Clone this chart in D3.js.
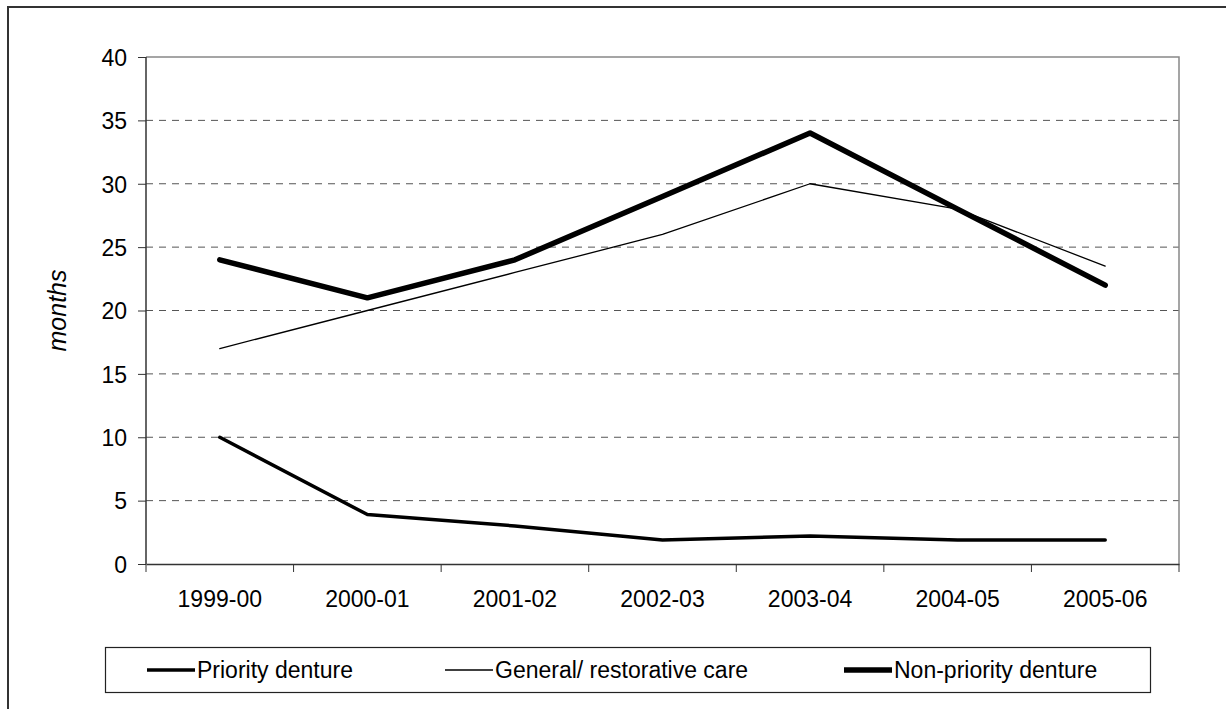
<!DOCTYPE html>
<html>
<head>
<meta charset="utf-8">
<script src="https://cdn.jsdelivr.net/npm/d3@7"></script>
<style>
  body { margin: 0; background: #fff; }
  svg { display: block; font-family: "Liberation Sans", Arial, sans-serif; }
</style>
</head>
<body>
<svg id="chart"></svg>
<script>
const years = ["1999-00", "2000-01", "2001-02", "2002-03", "2003-04", "2004-05", "2005-06"];
const priorityDenture = [10, 3.9, 3.0, 1.9, 2.2, 1.9, 1.9];
const generalCare = [17, 20, 23, 26, 30, 28, 23.5];
const nonPriorityDenture = [24, 21, 24, 29, 34, 28, 22];
const seriesNames = ["Priority denture", "General/ restorative care", "Non-priority denture"];
const yTicks = [0, 5, 10, 15, 20, 25, 30, 35, 40];

const canvasWidth = 1226;
const canvasHeight = 709;
const margins = {"left": 146, "right": 47, "top": 57, "bottom": 145};

var series = [
  {"name": seriesNames[0], "values": priorityDenture, "width": 3.5},
  {"name": seriesNames[1], "values": generalCare, "width": 1.3},
  {"name": seriesNames[2], "values": nonPriorityDenture, "width": 5.5}
];

var svg = d3.select("#chart")
            .attr("width", canvasWidth)
            .attr("height", canvasHeight);

// outer frame (cut off at right and bottom)
svg.append("rect")
   .attr("x", 8)
   .attr("y", 7)
   .attr("width", 1260)
   .attr("height", 740)
   .attr("fill", "none")
   .attr("stroke", "#333")
   .attr("stroke-width", 2);

const xScale = d3.scaleBand()
                 .domain(years)
                 .range([margins.left, canvasWidth - margins.right]);
const yScale = d3.scaleLinear()
                 .domain([0, 40])
                 .range([canvasHeight - margins.bottom, margins.top]);

var g = svg.append("g").attr("class", "chartgroup");

// dashed gridlines
g.selectAll(".grid")
 .data(yTicks.filter((d) => d > 0 && d < 40))
 .enter()
 .append("line")
 .attr("class", "grid")
 .attr("x1", margins.left)
 .attr("x2", canvasWidth - margins.right)
 .attr("y1", (d) => yScale(d))
 .attr("y2", (d) => yScale(d))
 .attr("stroke", "#555")
 .attr("stroke-width", 1)
 .attr("stroke-dasharray", "7,6");

// plot area top and right border
g.append("path")
 .attr("d", "M" + margins.left + "," + yScale(40) + "H" + (canvasWidth - margins.right) + "V" + yScale(0))
 .attr("fill", "none")
 .attr("stroke", "#888")
 .attr("stroke-width", 1.5);

const yAxis = d3.axisLeft(yScale)
                .tickValues(yTicks)
                .tickSize(8)
                .tickPadding(11)
                .tickFormat(d3.format("d"));

var yAxisG = g.append("g")
              .attr("transform", "translate(" + margins.left + ",0)")
              .call(yAxis);

// x axis with ticks at band edges
const xAxis = d3.axisBottom(xScale).tickSize(0).tickPadding(27);
var xAxisG = g.append("g")
              .attr("transform", "translate(0," + yScale(0) + ")")
              .call(xAxis);

var edges = years.map((d) => xScale(d)).concat([xScale(years[years.length - 1]) + xScale.bandwidth()]);
xAxisG.selectAll(".edge")
      .data(edges)
      .enter()
      .append("line")
      .attr("class", "edge")
      .attr("x1", (d) => d)
      .attr("x2", (d) => d)
      .attr("y1", 0)
      .attr("y2", 8)
      .attr("stroke", "#333");

[yAxisG, xAxisG].forEach(function(a){
  a.select(".domain").attr("stroke", "#333").attr("stroke-width", 1.5);
  a.selectAll(".tick line").attr("stroke", "#333");
  a.selectAll("text")
   .attr("fill", "#000")
   .style("font-size", "23px")
   .style("font-family", "'Liberation Sans', Arial, sans-serif");
});
yAxisG.select(".domain").attr("d", "M0," + yScale(40) + "V" + yScale(0));
yAxisG.selectAll(".tick text").attr("dy", "0.36em");

// y axis title
svg.append("text")
   .attr("transform", "translate(66," + ((yScale(0) + yScale(40)) / 2) + ") rotate(-90)")
   .attr("text-anchor", "middle")
   .style("font-size", "25px")
   .style("font-style", "italic")
   .text("months");

var line = d3.line()
             .x((d, i) => xScale(years[i]) + xScale.bandwidth() / 2)
             .y((d) => yScale(d));

g.selectAll(".series")
 .data(series)
 .enter()
 .append("path")
 .attr("class", "series")
 .attr("d", (d) => line(d.values))
 .attr("fill", "none")
 .attr("stroke", "#000")
 .attr("stroke-width", (d) => d.width)
 .attr("stroke-linejoin", "round")
 .attr("stroke-linecap", "round");

// legend
var legend = svg.append("g").attr("id", "legend");
legend.append("rect")
      .attr("x", 105.5)
      .attr("y", 647.5)
      .attr("width", 1045)
      .attr("height", 45)
      .attr("fill", "#fff")
      .attr("stroke", "#222")
      .attr("stroke-width", 1.2);

const legendX = [147, 445, 844];
var items = legend.selectAll(".item")
                  .data(series)
                  .enter()
                  .append("g")
                  .attr("class", "item")
                  .attr("transform", (d, i) => "translate(" + legendX[i] + ",670)");
items.append("line")
     .attr("x1", 0)
     .attr("x2", 48)
     .attr("stroke", "#000")
     .attr("stroke-width", (d) => d.width);
items.append("text")
     .attr("x", 50)
     .attr("y", 8)
     .style("font-size", "23px")
     .text((d) => d.name);
</script>
</body>
</html>
